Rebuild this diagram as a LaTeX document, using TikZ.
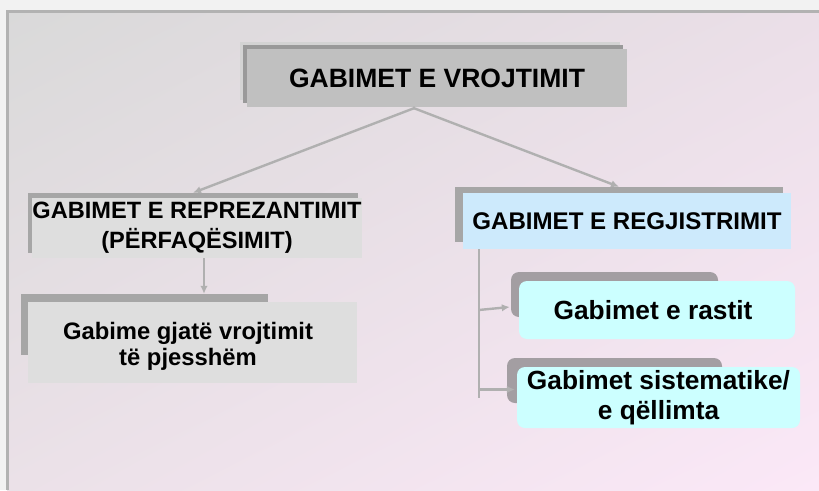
\documentclass[tikz,border=0pt]{standalone}
\usepackage{fontspec}
\setmainfont{Liberation Sans}
\usetikzlibrary{arrows.meta,calc,shadings}

\definecolor{bgUL}{HTML}{D9D9D9}
\definecolor{bgUR}{HTML}{EBDFE8}
\definecolor{bgLL}{HTML}{EBE1E8}
\definecolor{bgLR}{HTML}{FBE8F7}
\definecolor{framegray}{HTML}{B2B2B2}
\definecolor{topfill}{HTML}{C0C0C0}
\definecolor{topshade}{HTML}{999999}
\definecolor{topglow}{HTML}{D3D3D3}
\definecolor{greyfill}{HTML}{DEDEDE}
\definecolor{greyshade}{HTML}{A6A6A6}
\definecolor{bluefill}{HTML}{CDEAFC}
\definecolor{cyanfill}{HTML}{CCFFFF}
\definecolor{roundshade}{HTML}{A39EA2}
\definecolor{linkgray}{HTML}{B0B0B0}

\tikzset{
  box/.style={inner sep=0pt, align=center, font=\bfseries},
  shadowbox/.style={inner sep=0pt, fill=#1},
  link/.style={draw=linkgray, line width=2.4pt, -{Latex[length=8pt,width=7.5pt]}},
  trunkline/.style={draw=linkgray, line width=2.4pt}
}

\begin{document}
\begin{tikzpicture}[x=1pt,y=-1pt]
\useasboundingbox (0,0) rectangle (819,490);
\fill[white!95!black] (0,0) rectangle (819,490);
% slide background with diagonal gradient
\shade[upper left=bgUL, upper right=bgUR, lower left=bgLL, lower right=bgLR]
  (7,11) rectangle (819,490);
\draw[framegray, line width=3pt] (7,490) -- (7,11.5) -- (819,11.5);

% ---- top box ----
\node[shadowbox=topglow, minimum width=380pt, minimum height=58pt] (g-top) at (430,71) {};
\node[shadowbox=topshade, minimum width=380pt, minimum height=58pt] (s-top) at (433,74) {};
\node[box, fill=topfill, minimum width=380pt, minimum height=58pt,
      font=\bfseries\fontsize{26.5}{30}\selectfont] (top) at (437,78) {GABIMET E VROJTIMIT};

% ---- left branch ----
\node[shadowbox=greyshade, minimum width=330pt, minimum height=60pt] (s-left) at (193,223) {};
\node[box, fill=greyfill, minimum width=328pt, minimum height=60pt,
      font=\bfseries\fontsize{23.6}{30}\selectfont] (left) at (197,228)
      {GABIMET E REPREZANTIMIT\\(PËRFAQËSIMIT)};

\node[shadowbox=greyshade, minimum width=247pt, minimum height=61pt] (s-part) at (144.5,324.5) {};
\node[box, fill=greyfill, minimum width=329pt, minimum height=81pt] (part) at (192.5,342.5) {};
\node[box, font=\bfseries\fontsize{23.8}{26}\selectfont] (part-text) at (188,346)
      {Gabime gjatë vrojtimit\\të pjesshëm};

% ---- right branch ----
\node[shadowbox=greyshade, minimum width=328pt, minimum height=55pt] (s-reg) at (619,214.5) {};
\node[box, fill=bluefill, minimum width=328pt, minimum height=56pt,
      font=\bfseries\fontsize{24.1}{28}\selectfont] (reg) at (627,221) {GABIMET E REGJISTRIMIT};

\node[shadowbox=roundshade, rounded corners=8pt, minimum width=207pt, minimum height=45pt] (s-rast) at (614.5,294.5) {};
\node[box, fill=cyanfill, rounded corners=8pt, minimum width=276pt, minimum height=58pt,
      font=\bfseries\fontsize{26.3}{30}\selectfont] (rast) at (657,310) {\hspace*{-8pt}Gabimet e rastit};

\node[shadowbox=roundshade, rounded corners=8pt, minimum width=215pt, minimum height=45pt] (s-sist) at (614.5,380.5) {};
\node[box, fill=cyanfill, rounded corners=8pt, minimum width=283pt, minimum height=61pt,
      font=\bfseries\fontsize{26.3}{30}\selectfont] (sist) at (658.5,397.5)
      {Gabimet sistematike/\\e qëllimta};

% ---- connectors ----
\coordinate (split) at ($(top.south)+(-23,1)$);
\draw[trunkline, line cap=round] (split) -- ($(top.south)+(-23,0)$);
\path[link] (split) -- (s-left.north);
\path[link] (split) -- (s-reg.north);

\path[link] ([xshift=7pt]left.south) -- ([xshift=7pt]left.south |- s-part.north);

\coordinate (trunk) at ([xshift=16pt]reg.south west);
\path[trunkline] (trunk) -- (trunk |- sist.west);
\path[link] (trunk |- rast.west) -- ($(s-rast.west |- rast.west)+(-1,-3)$);
\path[link] ($(trunk |- sist.west)+(0,-8)$) -- ($(sist.west)+(-2,-8)$);
\end{tikzpicture}
\end{document}
